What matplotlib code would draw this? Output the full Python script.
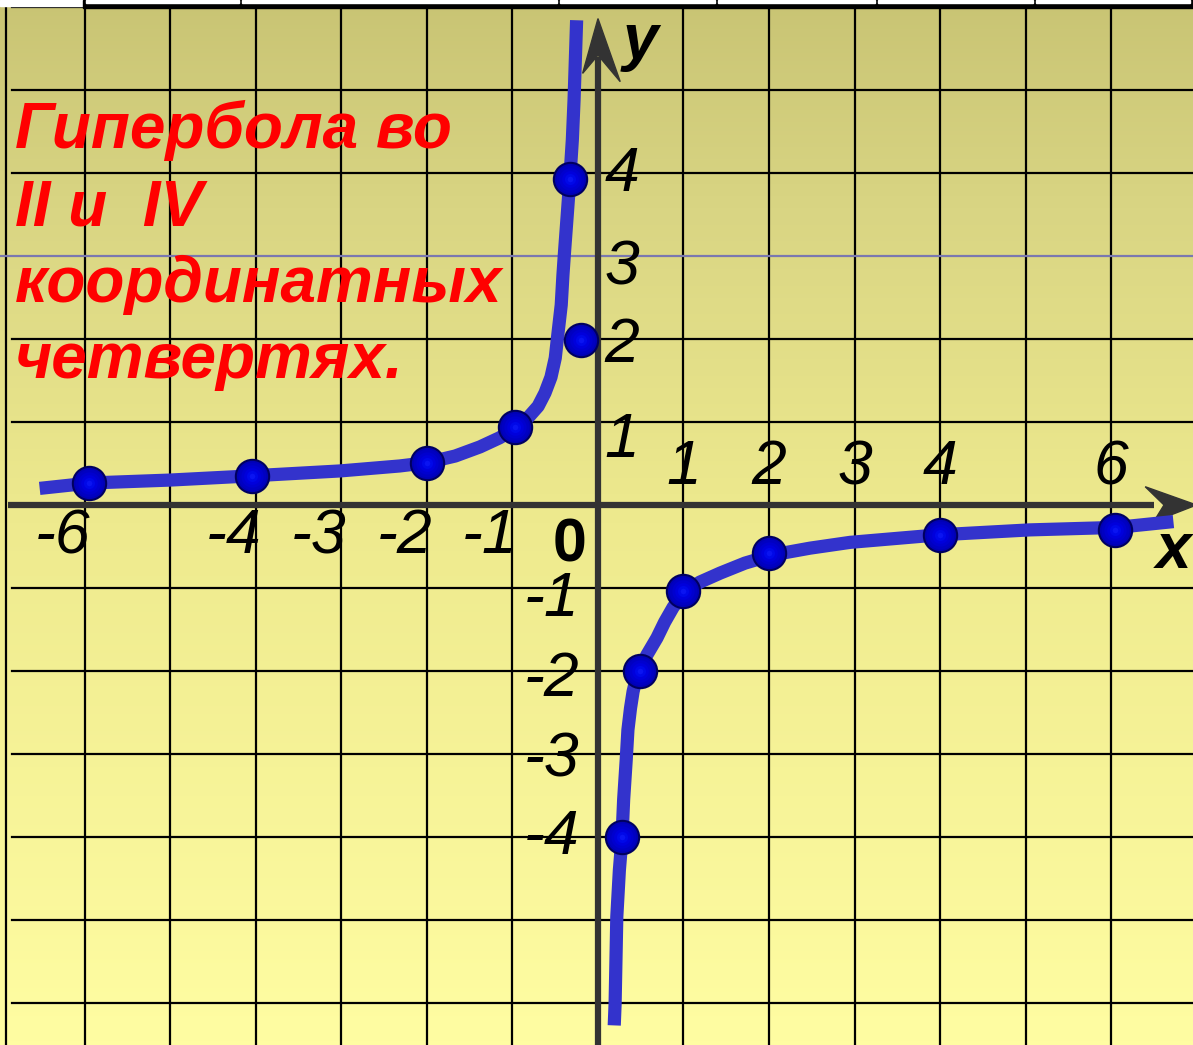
"""Hyperbola y = -k/x in the II and IV quadrants, drawn on a squared
yellow board in the style of a school slide.
"""

import matplotlib.pyplot as plt
import numpy as np
from matplotlib.colors import LinearSegmentedColormap
from matplotlib.patches import Polygon, Rectangle

# Points marked on the hyperbola
left_x = [-5.95, -4.05, -2.0, -0.97, -0.33, -0.2]
left_y = [0.26, 0.35, 0.5, 0.94, 3.93, 1.99]
right_x = [0.28, 0.49, 1.0, 2.0, 4.0, 6.05]
right_y = [-4.0, -2.0, -1.04, -0.58, -0.36, -0.3]

# The drawn curve, branch by branch
curve_left_x = [-6.53, -5.94, -5.01, -4.07, -3.02, -2.32, -2.0, -1.67,
                -1.38, -1.15, -0.96, -0.82, -0.70, -0.62, -0.55, -0.50,
                -0.47, -0.43, -0.41, -0.39, -0.36, -0.33, -0.30, -0.28,
                -0.25]
curve_left_y = [0.20, 0.265, 0.30, 0.35, 0.41, 0.47, 0.51, 0.59,
                0.70, 0.81, 0.93, 1.05, 1.19, 1.35, 1.54, 1.77,
                2.05, 2.41, 2.77, 3.07, 3.49, 3.92, 4.40, 4.88,
                5.84]
curve_right_x = [0.19, 0.20, 0.22, 0.25, 0.28, 0.30, 0.33, 0.35, 0.38,
                 0.41, 0.44, 0.49, 0.57, 0.69, 0.78, 0.88, 1.01, 1.19,
                 1.43, 1.72, 2.05, 2.48, 2.95, 3.98, 5.05, 6.07, 6.73]
curve_right_y = [-6.27, -6.01, -4.96, -4.40, -4.02, -3.55, -3.07, -2.71,
                 -2.45, -2.25, -2.12, -2.01, -1.81, -1.60, -1.41, -1.23,
                 -1.06, -0.93, -0.82, -0.70, -0.60, -0.52, -0.45, -0.36,
                 -0.30, -0.27, -0.20]

# Axis labels
x_neg_labels = ["-6", "-4", "-3", "-2", "-1"]
x_neg_values = [-6, -4, -3, -2, -1]
x_pos_labels = ["1", "2", "3", "4", "6"]
x_pos_values = [1, 2, 3, 4, 6]
y_pos_labels = ["4", "3", "2", "1"]
y_pos_values = [3.98, 2.86, 1.92, 0.78]
y_neg_labels = ["-1", "-2", "-3", "-4"]
y_neg_values = [-1.14, -2.1, -3.07, -4.01]

title_lines = ["Гипербола во", "II и  IV", "координатных", "четвертях."]
title_baselines = [4.3, 3.37, 2.45, 1.53]

BLUE = "#3333cc"
AXIS = "#333333"
FONT = "Liberation Sans"


def draw_background(ax, xlim, ylim):
    """Vertical olive-to-pale-yellow gradient."""
    cmap = LinearSegmentedColormap.from_list(
        "board", [(0.0, "#fffda2"), (0.5, "#eeea8e"), (0.8, "#d9d583"),
                  (1.0, "#c9c474")])
    grad = np.linspace(0, 1, 256).reshape(-1, 1)
    ax.imshow(grad, cmap=cmap, origin="lower", aspect="auto",
              extent=[xlim[0], xlim[1], ylim[0], ylim[1]], zorder=0)


def draw_grid(ax, xlim, ylim):
    """Black squared grid, one line per unit."""
    for x in list(range(-6, 0)) + list(range(1, 7)) + [-6.92]:
        ax.plot([x, x], ylim, color="black", lw=1.6, zorder=1)
    for y in list(range(-6, 0)) + list(range(1, 7)):
        color = "#7a78b0" if y == 3 else "black"
        start = xlim[0] if y == 3 else -6.85
        ax.plot([start, xlim[1]], [y, y], color=color, lw=1.6, zorder=1)


def draw_axes(ax):
    """Thick dark axes with barbed arrow heads."""
    ax.plot([-6.9, 6.5], [0, 0], color=AXIS, lw=4.5, zorder=2,
            solid_capstyle="butt")
    ax.plot([0, 0], [-6.6, 5.4], color=AXIS, lw=4.5, zorder=2,
            solid_capstyle="butt")
    ax.add_patch(Polygon([(7.0, 0), (6.4, 0.22), (6.62, 0), (6.5, -0.2)],
                         closed=True, color=AXIS, zorder=2))
    ax.add_patch(Polygon([(0, 5.86), (-0.18, 5.2), (0, 5.42), (0.26, 5.1)],
                         closed=True, color=AXIS, zorder=2))


def draw_labels(ax):
    """Tick numbers, axis letters and the red caption."""
    style = dict(fontsize=45, style="italic", family=FONT, color="black",
                 zorder=5)
    for lab, v in zip(x_neg_labels, x_neg_values):
        ax.text(v + 0.06, -0.38, lab, ha="right", va="center", **style)
    for lab, v in zip(x_pos_labels, x_pos_values):
        ax.text(v, 0.45, lab, ha="center", va="center", **style)
    for lab, v in zip(y_pos_labels, y_pos_values):
        ax.text(0.08, v, lab, ha="left", va="center", **style)
    for lab, v in zip(y_neg_labels, y_neg_values):
        ax.text(-0.22, v, lab, ha="right", va="center", **style)

    ax.text(-0.33, -0.5, "0", ha="center", va="center", fontsize=44,
            weight="bold", family=FONT, zorder=5)
    ax.text(0.5, 5.58, "y", ha="center", va="center", fontsize=46,
            weight="bold", style="italic", family=FONT, zorder=5)
    ax.text(6.94, -0.55, "x", ha="right", va="center", fontsize=46,
            weight="bold", style="italic", family=FONT, zorder=5)

    for line, base in zip(title_lines, title_baselines):
        ax.text(-6.82, base, line, ha="left", va="baseline", fontsize=46,
                weight="bold", style="italic", family=FONT, color="#ff0000",
                zorder=5)


def draw_top_strip(fig):
    """Cut-off table border along the top edge of the slide."""
    W, H = 1193, 1045

    def rect(x0, y0, w, h, color):
        fig.add_artist(Rectangle((x0 / W, 1 - (y0 + h) / H), w / W, h / H,
                                 transform=fig.transFigure, color=color,
                                 zorder=10))

    rect(0, 0, 83, 6, "white")
    rect(83, 0, W - 83, 8, "black")
    edges = [86, 242, 560, 718, 878, 1036, W]
    for a, b in zip(edges[:-1], edges[1:]):
        rect(a, 0, b - a - 3, 2.5, "white")


def main():
    fig = plt.figure(figsize=(11.93, 10.45), dpi=100)
    ax = fig.add_axes([0, 0, 1, 1])
    xlim = (-6.994, 6.959)
    ylim = (-6.506, 6.084)

    draw_background(ax, xlim, ylim)
    draw_grid(ax, xlim, ylim)
    draw_axes(ax)

    for cx, cy in [(curve_left_x, curve_left_y),
                   (curve_right_x, curve_right_y)]:
        ax.plot(cx, cy, color=BLUE, lw=9.5, solid_joinstyle="round",
                solid_capstyle="butt", zorder=3)

    # Shaded balls: dark rim, softly lighter core
    px = left_x + right_x
    py = left_y + right_y
    ax.plot(px, py, "o", ms=24, mfc="#0000b4", mec="#000060", mew=1.5,
            ls="none", zorder=4)
    for ms, col in [(20, "#0000c2"), (16, "#0000cf"), (12, "#0000dc"),
                    (8, "#0008e8"), (4, "#0a14f2")]:
        ax.plot(px, py, "o", ms=ms, mfc=col, mec="none", ls="none",
                zorder=4)

    draw_labels(ax)

    ax.set_xlim(*xlim)
    ax.set_ylim(*ylim)
    ax.axis("off")

    draw_top_strip(fig)
    fig.savefig("out.png", dpi=100)


if __name__ == "__main__":
    main()
